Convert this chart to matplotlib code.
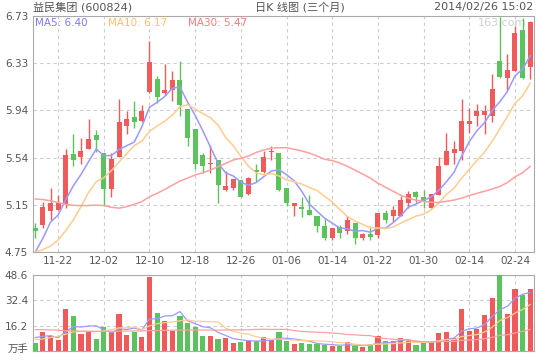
import matplotlib
matplotlib.use("Agg")
import matplotlib.pyplot as plt
import matplotlib.transforms as mtransforms
import pandas as pd

plt.rcParams['font.family'] = ['DejaVu Sans', 'Noto Sans CJK SC']

# 益民集团 日K，2013-11-19 ~ 2014-02-26
opens = [4.95, 4.98, 5.09, 5.10, 5.15, 5.57, 5.55, 5.61, 5.73, 5.58,
         5.28, 5.55, 5.81, 5.88, 5.85, 6.09, 6.20, 6.08, 6.11, 6.19,
         5.95, 5.78, 5.56, 5.49, 5.52, 5.27, 5.29, 5.35, 5.24, 5.44,
         5.42, 5.585, 5.58, 5.29, 5.14, 5.13, 5.10, 5.05, 4.97, 4.87,
         4.96, 4.93, 4.99, 4.87, 4.90, 4.89, 5.08, 5.05, 5.05, 5.16,
         5.25, 5.21, 5.12, 5.23, 5.48, 5.58, 5.60, 5.82, 5.89, 5.90,
         5.89, 6.35, 6.21, 6.27, 6.61, 6.30]
highs = [4.99, 5.17, 5.29, 5.23, 5.61, 5.74, 5.71, 5.87, 5.77, 5.58,
         5.58, 6.03, 5.93, 6.02, 5.98, 6.52, 6.23, 6.33, 6.27, 6.35,
         5.95, 5.78, 5.58, 5.65, 5.52, 5.43, 5.36, 5.35, 5.38, 5.49,
         5.60, 5.64, 5.58, 5.29, 5.16, 5.21, 5.23, 5.05, 5.03, 4.95,
         4.98, 5.05, 4.99, 4.91, 4.97, 5.08, 5.10, 5.14, 5.22, 5.26,
         5.26, 5.27, 5.24, 5.55, 5.75, 5.68, 6.03, 5.96, 5.99, 5.98,
         6.24, 6.72, 6.41, 6.65, 6.71, 6.69]
lows = [4.87, 4.95, 5.02, 5.10, 5.12, 5.47, 5.49, 5.61, 5.59, 5.14,
        5.21, 5.55, 5.74, 5.79, 5.84, 6.08, 6.00, 6.07, 6.02, 5.89,
        5.64, 5.45, 5.41, 5.41, 5.16, 5.26, 5.27, 5.21, 5.23, 5.34,
        5.41, 5.52, 5.26, 5.14, 5.05, 5.04, 5.06, 4.92, 4.85, 4.85,
        4.87, 4.90, 4.82, 4.85, 4.85, 4.87, 4.99, 5.00, 5.05, 5.12,
        5.16, 5.12, 5.12, 5.23, 5.48, 5.49, 5.52, 5.75, 5.81, 5.74,
        5.84, 6.21, 6.11, 6.27, 6.20, 6.20]
closes = [4.93, 5.13, 5.16, 5.16, 5.56, 5.52, 5.60, 5.70, 5.69, 5.28,
          5.53, 5.84, 5.87, 5.84, 5.93, 6.34, 6.05, 6.11, 6.19, 5.98,
          5.71, 5.49, 5.47, 5.50, 5.31, 5.30, 5.36, 5.21, 5.37, 5.42,
          5.55, 5.595, 5.27, 5.16, 5.16, 5.11, 5.06, 4.97, 4.87, 4.95,
          4.91, 5.02, 4.87, 4.90, 4.88, 5.08, 5.02, 5.10, 5.19, 5.24,
          5.21, 5.18, 5.24, 5.47, 5.60, 5.61, 5.85, 5.85, 5.93, 5.93,
          6.12, 6.22, 6.28, 6.59, 6.21, 6.68]
volumes = [5.1, 12.2, 9.6, 7.1, 26.8, 22.3, 10.9, 12.8, 7.5, 15.2,
           12.2, 23.8, 10.1, 12.0, 9.0, 47.5, 24.4, 19.1, 12.8, 22.3,
           18.0, 15.2, 9.4, 9.4, 7.5, 8.1, 5.1, 5.8, 6.6, 6.2,
           8.8, 7.3, 12.0, 6.2, 4.3, 4.9, 4.3, 4.5, 3.6, 3.0,
           3.0, 5.6, 3.4, 2.4, 4.3, 9.4, 6.2, 6.2, 8.1, 6.4,
           3.6, 4.9, 5.1, 11.3, 12.0, 8.1, 26.8, 12.6, 13.9, 22.9,
           33.8, 48.6, 23.6, 39.6, 35.8, 39.6]

# 图上读出的均线起始段（窗口之前的数据不在图内）
ma5_head = [4.75, 4.865, 5.00, 5.06]
ma10_head = [4.75, 4.77, 4.80, 4.85, 4.93, 5.02, 5.13, 5.25, 5.34]
ma30_head = [5.195, 5.19, 5.18, 5.165, 5.15, 5.142, 5.139, 5.14, 5.143, 5.14,
             5.125, 5.118, 5.13, 5.15, 5.172, 5.214, 5.242, 5.275, 5.31, 5.345,
             5.37, 5.396, 5.415, 5.438, 5.465, 5.494, 5.522, 5.536, 5.555]
vma5_head = [8.6, 9.4, 9.8, 8.6]
vma10_head = [7.3, 7.7, 8.6, 9.4, 10.7, 12.2, 12.6, 12.6, 12.2]
vma30_head = [13.7, 13.6, 13.5, 13.3, 13.0, 12.8, 12.7, 12.6, 12.6, 12.6,
              12.6, 12.7, 12.8, 12.8, 12.8, 13.0, 13.1, 13.2, 13.3, 13.3,
              13.4, 13.4, 13.4, 13.4, 13.4, 13.4, 13.5, 13.5, 13.6]

date_ticks = [3, 9, 15, 21, 27, 33, 39, 45, 51, 57, 63]
date_labels = ['11-22', '12-02', '12-10', '12-18', '12-26', '01-06',
               '01-14', '01-22', '01-30', '02-14', '02-24']
price_ticks = [4.75, 5.146, 5.542, 5.938, 6.334, 6.73]
price_labels = ['4.75', '5.15', '5.54', '5.94', '6.33', '6.73']
vol_ticks = [0, 16.2, 32.4, 48.6]
vol_labels = ['万手', '16.2', '32.4', '48.6']


def moving_average(values, n, head):
    ma = pd.Series(values).rolling(n).mean()
    ma.iloc[:len(head)] = head
    return ma


RED = '#f05a5a'
GREEN = '#5cc25c'
C_MA5 = '#9a9aff'
C_MA10 = '#ffcc90'
C_MA30 = '#ffa0a0'
GRAY = '#555555'
FRAME = '#aaaaaa'

x = list(range(len(closes)))
colors = [RED if c >= o else GREEN for o, c in zip(opens, closes)]

fig = plt.figure(figsize=(5.4, 3.6), dpi=100)
ax = fig.add_axes([33 / 540, 1 - 252 / 360, 501 / 540, 236 / 360])
axv = fig.add_axes([33 / 540, 1 - 351 / 360, 501 / 540, 76 / 360])

for a in (ax, axv):
    a.set_xlim(-0.3, 65.5)
    a.grid(True, linestyle=(0, (3, 3)), color='#cccccc', linewidth=0.8)
    a.set_axisbelow(True)
    for s in a.spines.values():
        s.set_color(FRAME)
    a.tick_params(length=0, colors=GRAY, labelsize=7.5)
    a.set_xticks(date_ticks)

# K 线
ax.vlines(x, lows, highs, colors=colors, linewidth=1, zorder=2)
bodies = [max(abs(c - o), 0.006) for o, c in zip(opens, closes)]
ax.bar(x, bodies, bottom=[min(o, c) for o, c in zip(opens, closes)],
       width=0.66, color=colors, zorder=3)

ax.plot(x, moving_average(closes, 5, ma5_head), color=C_MA5, lw=1.1, zorder=4)
ax.plot(x, moving_average(closes, 10, ma10_head), color=C_MA10, lw=1.1, zorder=4)
ax.plot(x, moving_average(closes, 30, ma30_head), color=C_MA30, lw=1.1, zorder=4)

ax.set_ylim(4.75, 6.73)
ax.set_yticks(price_ticks)
ax.set_yticklabels(price_labels)
ax.set_xticklabels(date_labels)
ax.tick_params(axis='x', pad=3)

# 成交量
axv.bar(x, volumes, width=0.68, color=colors, zorder=3)
axv.plot(x, moving_average(volumes, 5, vma5_head), color=C_MA5, lw=0.9, zorder=4)
axv.plot(x, moving_average(volumes, 10, vma10_head), color=C_MA10, lw=0.9, zorder=4)
axv.plot(x, moving_average(volumes, 30, vma30_head), color=C_MA30, lw=0.9, zorder=4)
axv.set_ylim(0, 48.6)
axv.set_yticks(vol_ticks)
axv.set_yticklabels(vol_labels)
axv.set_xticklabels([])
# 把“万手”稍微上移，避免被底边裁掉
lab = axv.get_yticklabels()[0]
lab.set_transform(lab.get_transform() +
                  mtransforms.ScaledTranslation(0, 3 / 100, fig.dpi_scale_trans))

# 文字
fig.text(33 / 540, 1 - 7 / 360, '益民集团 (600824)', color=GRAY, fontsize=8,
         va='center', ha='left')
fig.text(300 / 540, 1 - 7 / 360, '日K 线图 (三个月)', color=GRAY, fontsize=8,
         va='center', ha='center')
fig.text(533 / 540, 1 - 7 / 360, '2014/02/26 15:02', color=GRAY, fontsize=8,
         va='center', ha='right')
ax.text(0.004, 0.97, 'MA5: 6.40', transform=ax.transAxes, color='#7b7bff',
        fontsize=7.5, va='center')
ax.text(0.15, 0.97, 'MA10: 6.17', transform=ax.transAxes, color='#ffbf70',
        fontsize=7.5, va='center')
ax.text(0.31, 0.97, 'MA30: 5.47', transform=ax.transAxes, color='#ff7878',
        fontsize=7.5, va='center')
ax.text(0.985, 0.97, '163.com', transform=ax.transAxes, color='#d0d0d0',
        fontsize=8, va='center', ha='right', zorder=1)

fig.savefig('out.png', dpi=100)
